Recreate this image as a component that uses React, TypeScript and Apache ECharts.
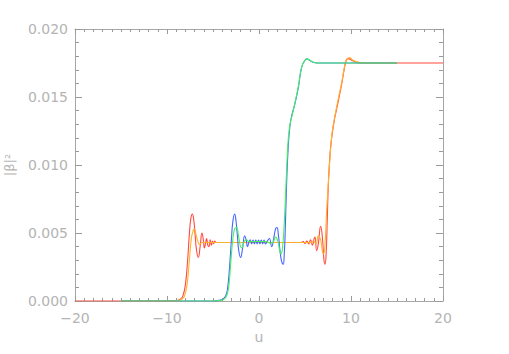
import React, { useEffect, useRef } from "react";
import * as echarts from "echarts";

// u-axis tick labels and value-axis tick labels
const xTicks = [-20, -10, 0, 10, 20];
const yTicks = [0, 0.005, 0.01, 0.015, 0.02];

// Series: [u, |beta|^2]
const redPoints: [number, number][] = [
  [-20, 0], [-10, 0], [-9.2, 0.00002], [-8.8, 0.00006], [-8.5, 0.00015], [-8.26, 0.0004],
  [-8.0, 0.0012], [-7.76, 0.003], [-7.55, 0.0051], [-7.4, 0.0061], [-7.25, 0.0064],
  [-7.1, 0.006], [-6.95, 0.0049], [-6.8, 0.0038], [-6.6, 0.0032], [-6.4, 0.004],
  [-6.2, 0.005], [-6.05, 0.0045], [-5.94, 0.0039], [-5.82, 0.0042], [-5.7, 0.0046],
  [-5.56, 0.0041], [-5.44, 0.004], [-5.3, 0.0045], [-5.17, 0.0041], [-5.05, 0.0044],
  [-4.92, 0.00422], [-4.8, 0.0044], [-4.65, 0.0043], [4.6, 0.0043], [4.8, 0.00437],
  [5.0, 0.00423], [5.2, 0.0044], [5.4, 0.0042], [5.6, 0.0045], [5.8, 0.0041],
  [6.0, 0.0046], [6.09, 0.0047], [6.27, 0.0037], [6.45, 0.0042], [6.7, 0.0055],
  [6.9, 0.0046], [7.05, 0.0031], [7.17, 0.0027], [7.3, 0.0035], [7.42, 0.006],
  [7.54, 0.0086], [7.72, 0.0108], [7.9, 0.012], [8.19, 0.0133], [8.4, 0.014],
  [8.62, 0.0147], [9.0, 0.016], [9.2, 0.0168], [9.4, 0.0175], [9.6, 0.0178],
  [9.8, 0.0178], [10.2, 0.01766], [10.6, 0.01755], [11.2, 0.0175], [20, 0.0175],
];

const orangePoints: [number, number][] = [
  [-15, 0], [-9.5, 0], [-9.0, 0.00003], [-8.6, 0.00008], [-8.3, 0.00018], [-8.08, 0.0004],
  [-7.8, 0.0013], [-7.57, 0.003], [-7.35, 0.0046], [-7.15, 0.0052], [-7.03, 0.0053],
  [-6.85, 0.0049], [-6.65, 0.0044], [-6.45, 0.00415], [-6.2, 0.0043], [5.6, 0.0043],
  [5.9, 0.0044], [6.2, 0.0042], [6.45, 0.0048], [6.7, 0.0045], [6.88, 0.0037],
  [7.0, 0.00345], [7.15, 0.0039], [7.35, 0.0066], [7.55, 0.0088], [7.9, 0.0121],
  [8.2, 0.0134], [8.6, 0.0148], [9.0, 0.0161], [9.35, 0.0174], [9.6, 0.0178],
  [9.85, 0.0179], [10.2, 0.0177], [10.6, 0.0176], [11.2, 0.0175], [15, 0.0175],
];

const bluePoints: [number, number][] = [
  [-15, 0], [-5, 0], [-4.3, 0.00005], [-3.9, 0.00015], [-3.6, 0.0004], [-3.4, 0.001],
  [-3.2, 0.0025], [-3.0, 0.0045], [-2.85, 0.0058], [-2.65, 0.0064], [-2.5, 0.0059],
  [-2.35, 0.0048], [-2.2, 0.0037], [-2.0, 0.0032], [-1.8, 0.0038], [-1.55, 0.0048],
  [-1.4, 0.0045], [-1.25, 0.004], [-1.1, 0.0043], [-0.95, 0.0045], [-0.8, 0.0042],
  [-0.65, 0.00448], [-0.5, 0.0042], [-0.35, 0.00448], [-0.2, 0.0042], [-0.05, 0.00448],
  [0.1, 0.0042], [0.25, 0.00448], [0.4, 0.0042], [0.55, 0.00448], [0.7, 0.0042],
  [0.9, 0.0044], [1.12, 0.0046], [1.38, 0.004], [1.6, 0.0046], [1.8, 0.0053],
  [1.95, 0.0054], [2.1, 0.0049], [2.25, 0.0039], [2.4, 0.0031], [2.52, 0.0028],
  [2.64, 0.0027], [2.74, 0.0034], [2.83, 0.0047], [3.0, 0.0086], [3.19, 0.0115],
  [3.37, 0.0129], [3.55, 0.0136], [3.9, 0.0145], [4.28, 0.0157], [4.64, 0.0172],
  [5.0, 0.0177], [5.2, 0.0178], [5.5, 0.0177], [5.8, 0.01757], [6.3, 0.0175], [15, 0.0175],
];

const greenPoints: [number, number][] = [
  [-15, 0], [-5, 0], [-4.1, 0.00005], [-3.7, 0.0002], [-3.45, 0.0005], [-3.25, 0.0013],
  [-3.05, 0.003], [-2.85, 0.0045], [-2.65, 0.0053], [-2.45, 0.0054], [-2.25, 0.0049],
  [-2.05, 0.0041], [-1.88, 0.0039], [-1.6, 0.0044], [-1.35, 0.0045], [-1.1, 0.00437],
  [0.8, 0.00437], [1.2, 0.00425], [1.5, 0.0043], [1.8, 0.0047], [2.05, 0.0044],
  [2.25, 0.0037], [2.39, 0.00345], [2.55, 0.0039], [2.72, 0.0054], [2.9, 0.008],
  [3.1, 0.011], [3.3, 0.0127], [3.55, 0.0135], [3.9, 0.01455], [4.28, 0.0158],
  [4.64, 0.0172], [5.0, 0.0177], [5.2, 0.0178], [5.5, 0.01772], [5.8, 0.0176],
  [6.3, 0.0175], [15, 0.0175],
];

const seriesList = [
  { name: "red", color: "#ff4a3d", points: redPoints },
  { name: "orange", color: "#ffb02e", points: orangePoints },
  { name: "blue", color: "#4466ff", points: bluePoints },
  { name: "green", color: "#44f060", points: greenPoints },
];

const AXIS_COLOR = "#a6a6a6";
const TICK_COLOR = "#9a9a9a";
const TEXT_COLOR = "#b4b4b4";
const FONT = "DejaVu Sans";

export default function App() {
  const ref = useRef<HTMLDivElement>(null);

  useEffect(() => {
    if (!ref.current) return;
    const chart = echarts.init(ref.current, undefined, { renderer: "svg" });
    const xMin = xTicks[0];
    const xMax = xTicks[xTicks.length - 1];
    const xInt = xTicks[1] - xTicks[0];
    const yMin = yTicks[0];
    const yMax = yTicks[yTicks.length - 1];
    const yInt = yTicks[1] - yTicks[0];

    const mk = (position: string, len: number, minorLen: number, minorSplit: number) => ({
      type: "value" as const,
      position,
      axisLine: { show: true, onZero: false, lineStyle: { color: AXIS_COLOR, width: 1 } },
      axisTick: { show: true, inside: true, length: len, lineStyle: { color: TICK_COLOR, width: 1 } },
      minorTick: {
        show: true,
        splitNumber: minorSplit,
        length: minorLen,
        lineStyle: { color: TICK_COLOR, width: 1 },
      },
      splitLine: { show: false },
    });

    chart.setOption({
      animation: false,
      backgroundColor: "#ffffff",
      grid: { left: 75, right: 66, top: 29, bottom: 53 },
      xAxis: [
        {
          ...mk("bottom", 5, 3, 10),
          min: xMin,
          max: xMax,
          interval: xInt,
          name: "u",
          nameLocation: "middle",
          nameGap: 28,
          nameTextStyle: { color: TEXT_COLOR, fontFamily: FONT, fontSize: 14 },
          axisLabel: {
            show: true,
            margin: 10,
            color: TEXT_COLOR,
            fontFamily: FONT,
            fontSize: 14,
            formatter: (v: number) => String(v).replace("-", "\u2212"),
          },
        },
        { ...mk("top", 5, 3, 10), min: xMin, max: xMax, interval: xInt, axisLabel: { show: false } },
      ],
      yAxis: [
        {
          ...mk("left", 7, 4, 5),
          min: yMin,
          max: yMax,
          interval: yInt,
          axisLabel: {
            show: true,
            margin: 7,
            color: TEXT_COLOR,
            fontFamily: FONT,
            fontSize: 14,
            formatter: (v: number) => v.toFixed(3),
          },
        },
        { ...mk("right", 7, 4, 5), min: yMin, max: yMax, interval: yInt, axisLabel: { show: false } },
      ],
      graphic: [
        {
          type: "text",
          x: 9,
          y: 165,
          rotation: Math.PI / 2,
          style: {
            text: "|\u03b2|\u00b2",
            fill: TEXT_COLOR,
            font: `13px "${FONT}"`,
            align: "center",
            verticalAlign: "middle",
          },
        },
      ],
      series: seriesList.map((s) => ({
        name: s.name,
        type: "line",
        data: s.points,
        showSymbol: false,
        symbol: "none",
        smooth: 0.5,
        lineStyle: { color: s.color, width: 1.1 },
        itemStyle: { color: s.color },
      })),
    });
    return () => chart.dispose();
  }, []);

  return (
    <div
      ref={ref}
      style={{ position: "fixed", left: 0, top: 0, width: 509, height: 354, background: "#fff" }}
    />
  );
}
